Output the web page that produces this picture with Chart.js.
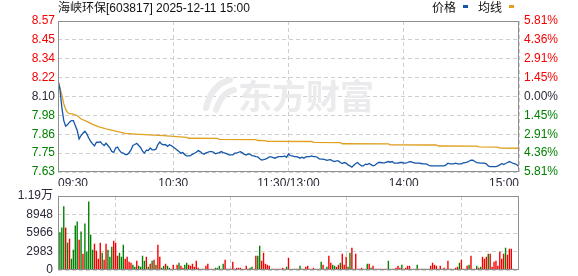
<!DOCTYPE html>
<html>
<head>
<meta charset="utf-8">
<script src="https://cdn.jsdelivr.net/npm/chart.js@4.4.1/dist/chart.umd.min.js"></script>
<style>
body{margin:0;background:#fff;width:578px;height:276px;position:relative;overflow:hidden}
canvas{position:absolute;left:0}
#priceChart{top:0}
#volChart{top:186px}
</style>
</head>
<body>
<canvas id="priceChart" width="578" height="190"></canvas>
<canvas id="volChart" width="578" height="90"></canvas>
<script>
// DATA
const title = "海峡环保[603817] 2025-12-11 15:00";
const timeLabels = ["09:30","10:30","11:30/13:00","14:00","15:00"];
const prevClose = 8.10;
const priceTicks = ["7.63","7.75","7.86","7.98","8.10","8.22","8.34","8.45","8.57"];
const pctTicks = ["5.81%","4.36%","2.91%","1.45%","0.00%","1.45%","2.91%","4.36%","5.81%"];
const volTicks = ["0","2983","5966","8948","1.19万"];

// minute prices, 09:30 .. 15:00 (241 points)
const price = [
 8.20,8.145,8.032,7.95,7.915,7.925,7.94,7.95,7.95,7.92,
 7.888,7.836,7.857,7.871,7.884,7.867,7.842,7.82,7.805,7.793,
 7.816,7.814,7.818,7.805,7.795,7.809,7.795,7.78,7.758,7.752,
 7.78,7.785,7.764,7.75,7.748,7.739,7.739,7.75,7.768,7.795,
 7.801,7.809,7.795,7.783,7.76,7.748,7.766,7.764,7.78,7.768,
 7.768,7.772,7.801,7.816,7.803,7.799,7.801,7.789,7.799,7.795,
 7.786,7.776,7.767,7.757,7.747,7.751,7.738,7.73,7.73,7.732,
 7.74,7.747,7.753,7.763,7.757,7.747,7.74,7.749,7.753,7.757,
 7.757,7.753,7.743,7.747,7.751,7.757,7.751,7.747,7.743,7.736,
 7.736,7.736,7.747,7.747,7.753,7.757,7.749,7.74,7.736,7.743,
 7.74,7.732,7.73,7.726,7.724,7.712,7.705,7.707,7.71,7.716,
 7.724,7.724,7.72,7.716,7.722,7.726,7.726,7.726,7.73,7.722,
 7.743,7.732,7.73,7.726,7.726,7.722,7.716,7.722,7.716,7.724,
 7.726,7.726,7.73,7.726,7.726,7.722,7.712,7.71,7.71,7.707,
 7.703,7.705,7.707,7.699,7.695,7.699,7.699,7.689,7.683,7.689,
 7.685,7.674,7.668,7.66,7.672,7.683,7.689,7.676,7.668,7.668,
 7.679,7.676,7.683,7.676,7.668,7.672,7.683,7.689,7.689,7.687,
 7.687,7.691,7.695,7.691,7.695,7.685,7.685,7.685,7.689,7.689,
 7.685,7.685,7.689,7.695,7.693,7.689,7.685,7.685,7.685,7.683,
 7.681,7.681,7.679,7.672,7.668,7.668,7.668,7.668,7.668,7.668,
 7.668,7.668,7.674,7.685,7.681,7.681,7.681,7.685,7.681,7.681,
 7.681,7.687,7.689,7.691,7.697,7.703,7.703,7.695,7.689,7.687,
 7.685,7.685,7.685,7.681,7.668,7.664,7.664,7.664,7.664,7.668,
 7.674,7.683,7.676,7.683,7.689,7.695,7.689,7.683,7.681,7.674,7.664
];

// average price line: [minute, value]
const avgPts = [
 [0,8.20],[1,8.155],[2,8.11],[3,8.055],[4,8.02],[5,8.00],[6,7.993],[8,7.99],
 [10,7.982],[12,7.96],[15,7.945],[18,7.927],[21,7.912],[25,7.898],[30,7.885],
 [35,7.87],[40,7.866],[45,7.863],[50,7.859],[55,7.856],[60,7.852],[67,7.846],
 [68,7.84],[83,7.839],[84,7.833],[103,7.832],[104,7.826],[108,7.825],[109,7.821],
 [132,7.82],[133,7.814],[147,7.813],[148,7.806],[172,7.805],[173,7.799],
 [197,7.798],[198,7.792],[218,7.791],[219,7.786],[229,7.785],[230,7.779],[240,7.778]
];

// minute volumes (241)
const volume = [
 5724,6048,6804,10260,6804,4374,5022,1782,3240,7128,
 7776,4860,6156,2592,7452,2916,11016,5670,3240,4212,
 3078,1782,4374,2754,1620,4212,3240,2106,3726,4698,
 4374,2268,2754,2106,4050,1782,2106,1296,1134,810,
 486,
 1458,648,486,2268,1458,2106,486,972,1458,1620,
 810,4050,2106,324,648,972,648,324,162,810,
 162,810,1134,648,324,810,1134,810,648,972,
 486,1458,324,162,162,162,648,972,162,
 162,162,324,324,648,162,972,1620,162,162,
 162,1296,162,324,324,324,162,162,648,162,
 324,486,162,2268,2268,3888,1458,2754,972,810,
 648,162,162,162,162,162,162,324,162,486,
 1944,162,162,162,162,162,648,162,162,486,
 648,162,162,324,162,162,162,1296,810,162,
 486,2268,1134,810,648,486,810,1134,2592,810,
 2106,486,2754,3564,162,2592,162,162,324,162,
 162,972,972,324,648,162,162,162,162,162,162,
 162,
 1458,162,162,162,324,648,324,810,162,
 324,648,648,162,162,162,810,162,162,162,
 162,
 162,162,648,1134,810,648,162,648,162,324,
 162,1458,162,162,162,324,486,1134,1620,162,
 162,
 648,810,2268,162,162,648,324,486,2106,1782,
 2106,2592,2592,486,1296,1458,648,2916,1782,2592,
 3564,2430,3402,3402,
 162,0,0,1944
];
// r = up minute, g = down minute
const volDir = ("ggggrgrggg"+"grgrgggggr"+"rrrgrrgggr"+"rrgggrrrrg"+"g"+"rggggrgrgr"+"grrggrggrr"+"grgrrggrrr"+"rrrgggrrr"
 +"rrgggrgrrr"+"rrrrrrrgrr"+"ggrrggrrrr"+"rgrrrrrrrg"+"rgrgrrgrrr"+"rrrrrrggrg"+"grrggrrgrr"+"rggrrrrrrr"
 +"rgrgrrrrrrr"+"r"+"grgrrrrgr"+"rrrgrrgrrg"+"g"+"ggrrrrrrrr"+"rrgrgrrgrr"+"r"+"rgrrrgrgrr"+"rgrrrrrrrr"+"grrr"
 +"gggg").split("");

// STYLE
const RED="#f50000", GREEN="#008200", DARK="#2a2a3a", GRID="#cfcfcf", FRAME="#8f8f8f";
const BLUE="#1456a8", GOLD="#e0a020";
Chart.defaults.font.family='"Liberation Sans", Arial, "Noto Sans CJK SC", sans-serif';
Chart.defaults.font.size=12;

function evenTicks(labels){
  return s=>{ s.ticks=labels.map((t,k)=>({value:s.min+k*(s.max-s.min)/(labels.length-1)})); };
}
function fixWidth(w){
  return s=>{ s.width=w; s.paddingTop=0; s.paddingBottom=0; };
}
function fixHeight(h){
  return s=>{ s.height=h; s.paddingLeft=0; s.paddingRight=0; };
}
function priceColor(c){
  let mid=(priceTicks.length-1)/2;
  return c.index>mid?RED:(c.index<mid?GREEN:DARK);
}

const framePlugin={
  id:'frame',
  beforeDraw(c){
    let g=c.ctx; g.save(); g.fillStyle="#fff"; g.fillRect(0,0,c.width,c.height); g.restore();
  },
  afterDraw(c){
    let a=c.chartArea, g=c.ctx;
    g.save(); g.strokeStyle=FRAME; g.lineWidth=1;
    g.strokeRect(Math.round(a.left)+0.5,Math.round(a.top)+0.5,Math.round(a.right-a.left)-1,Math.round(a.bottom-a.top)-1);
    g.restore();
  }
};

const headPlugin={
  id:'head',
  beforeDatasetsDraw(c){
    // watermark
    let g=c.ctx; g.save();
    g.fillStyle="#ebebee"; g.strokeStyle="#ebebee";
    g.font='bold 34px "Noto Sans CJK SC"'; g.textBaseline="middle"; g.textAlign="left";
    g.fillText("东方财富",238,96);
    g.lineWidth=6; g.lineCap="round";
    g.beginPath(); g.moveTo(206,108); g.quadraticCurveTo(212,84,230,80); g.stroke();
    g.beginPath(); g.moveTo(216,110); g.quadraticCurveTo(222,92,234,90); g.stroke();
    g.restore();
  },
  afterDraw(c){
    let g=c.ctx; g.save();
    g.font='12px "Liberation Sans", "Noto Sans CJK SC"'; g.fillStyle="#111"; g.textBaseline="middle";
    g.fillText(title,58,9);
    g.fillText("价格",432,9);
    g.fillText("均线",478,9);
    g.fillStyle=BLUE; g.fillRect(463,5,5,3);
    g.fillStyle=GOLD; g.fillRect(509,5,5,3);
    g.restore();
  }
};

// PRICE CHART
new Chart(document.getElementById("priceChart"),{
  type:'line',
  data:{datasets:[
    {data:price.map((y,x)=>({x,y})),borderColor:BLUE,borderWidth:1.3,pointRadius:0,tension:0},
    {data:avgPts.map(p=>({x:p[0],y:p[1]})),borderColor:GOLD,borderWidth:1.3,pointRadius:0,tension:0}
  ]},
  options:{
    responsive:false,animation:false,events:[],
    layout:{padding:{top:21,left:0,right:0,bottom:0}},
    plugins:{legend:{display:false},tooltip:{enabled:false}},
    scales:{
      x:{type:'linear',min:0,max:240,
        afterBuildTicks:s=>{s.ticks=timeLabels.map((t,k)=>({value:k*60}))},
        afterFit:fixHeight(18),
        ticks:{callback:(v,k)=>timeLabels[k],align:'inner',maxRotation:0,autoSkip:false,color:DARK,padding:4},
        grid:{color:GRID,drawTicks:false},border:{display:false,dash:[4,3]}},
      y:{min:7.63,max:8.57,
        afterBuildTicks:evenTicks(priceTicks),
        afterFit:fixWidth(58),
        ticks:{callback:(v,k)=>priceTicks[k],color:priceColor,padding:3,autoSkip:false},
        grid:{color:GRID,drawTicks:false},border:{display:false,dash:[4,3]}},
      y2:{position:'right',min:7.63,max:8.57,
        afterBuildTicks:evenTicks(pctTicks),
        afterFit:fixWidth(59),
        ticks:{callback:(v,k)=>pctTicks[k],color:priceColor,padding:5,autoSkip:false},
        grid:{display:false,drawTicks:false},border:{display:false}}
    }
  },
  plugins:[framePlugin,headPlugin]
});

// VOLUME CHART
new Chart(document.getElementById("volChart"),{
  type:'bar',
  data:{datasets:[{
    data:volume.map((y,x)=>({x,y})),
    backgroundColor:volDir.map(d=>d==="r"?RED:GREEN),
    barThickness:1,
    inflateAmount:0.2
  }]},
  options:{
    responsive:false,animation:false,events:[],
    layout:{padding:{top:10,left:0,right:59,bottom:6}},
    plugins:{legend:{display:false},tooltip:{enabled:false}},
    scales:{
      x:{type:'linear',min:0,max:240,offset:false,
        afterBuildTicks:s=>{s.ticks=timeLabels.map((t,k)=>({value:k*60}))},
        afterFit:fixHeight(0),
        ticks:{display:false},
        grid:{color:GRID,drawTicks:false},border:{display:false,dash:[4,3]}},
      y:{min:0,max:11931,
        afterBuildTicks:evenTicks(volTicks),
        afterFit:fixWidth(58),
        ticks:{callback:(v,k)=>volTicks[k],color:DARK,padding:5,autoSkip:false},
        grid:{color:GRID,drawTicks:false},border:{display:false,dash:[4,3]}}
    }
  },
  plugins:[framePlugin]
});
</script>
</body>
</html>
